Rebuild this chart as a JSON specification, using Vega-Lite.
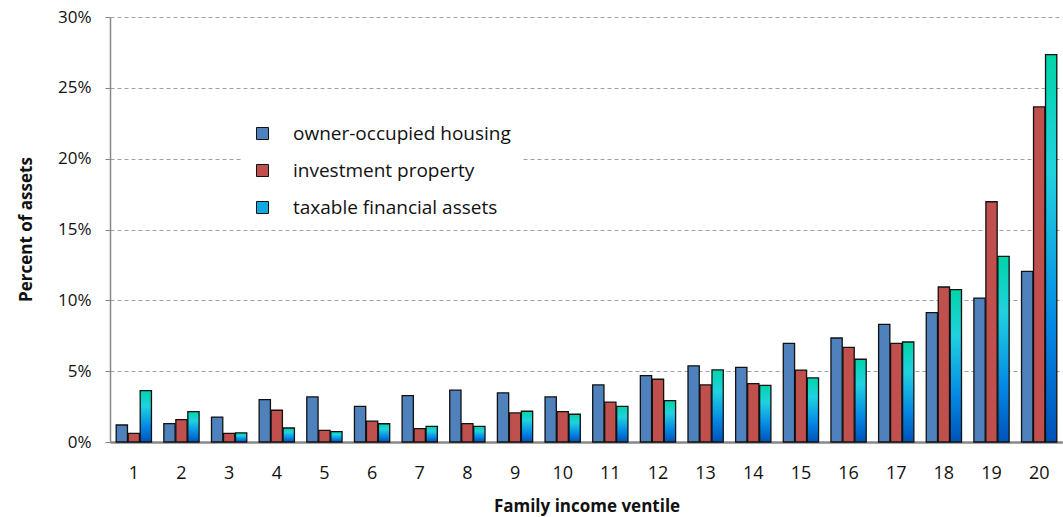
{
  "$schema": "https://vega.github.io/schema/vega-lite/v6.json",
  "width": 953,
  "height": 425,
  "autosize": {"type": "none"},
  "padding": {"left": 110, "top": 17, "right": 0, "bottom": 75},
  "background": "white",
  "config": {
    "view": {"stroke": null},
    "font": "Open Sans"
  },
  "data": {
    "values": [
      {"v": 1, "s": "owner-occupied housing", "p": 0.0120},
      {"v": 1, "s": "investment property", "p": 0.0061},
      {"v": 1, "s": "taxable financial assets", "p": 0.0362},
      {"v": 2, "s": "owner-occupied housing", "p": 0.0130},
      {"v": 2, "s": "investment property", "p": 0.0158},
      {"v": 2, "s": "taxable financial assets", "p": 0.0215},
      {"v": 3, "s": "owner-occupied housing", "p": 0.0176},
      {"v": 3, "s": "investment property", "p": 0.0061},
      {"v": 3, "s": "taxable financial assets", "p": 0.0064},
      {"v": 4, "s": "owner-occupied housing", "p": 0.0299},
      {"v": 4, "s": "investment property", "p": 0.0224},
      {"v": 4, "s": "taxable financial assets", "p": 0.0099},
      {"v": 5, "s": "owner-occupied housing", "p": 0.0318},
      {"v": 5, "s": "investment property", "p": 0.0082},
      {"v": 5, "s": "taxable financial assets", "p": 0.0073},
      {"v": 6, "s": "owner-occupied housing", "p": 0.0252},
      {"v": 6, "s": "investment property", "p": 0.0148},
      {"v": 6, "s": "taxable financial assets", "p": 0.0129},
      {"v": 7, "s": "owner-occupied housing", "p": 0.0327},
      {"v": 7, "s": "investment property", "p": 0.0094},
      {"v": 7, "s": "taxable financial assets", "p": 0.0111},
      {"v": 8, "s": "owner-occupied housing", "p": 0.0366},
      {"v": 8, "s": "investment property", "p": 0.0130},
      {"v": 8, "s": "taxable financial assets", "p": 0.0111},
      {"v": 9, "s": "owner-occupied housing", "p": 0.0347},
      {"v": 9, "s": "investment property", "p": 0.0205},
      {"v": 9, "s": "taxable financial assets", "p": 0.0217},
      {"v": 10, "s": "owner-occupied housing", "p": 0.0318},
      {"v": 10, "s": "investment property", "p": 0.0215},
      {"v": 10, "s": "taxable financial assets", "p": 0.0196},
      {"v": 11, "s": "owner-occupied housing", "p": 0.0403},
      {"v": 11, "s": "investment property", "p": 0.0281},
      {"v": 11, "s": "taxable financial assets", "p": 0.0252},
      {"v": 12, "s": "owner-occupied housing", "p": 0.0469},
      {"v": 12, "s": "investment property", "p": 0.0443},
      {"v": 12, "s": "taxable financial assets", "p": 0.0292},
      {"v": 13, "s": "owner-occupied housing", "p": 0.0538},
      {"v": 13, "s": "investment property", "p": 0.0403},
      {"v": 13, "s": "taxable financial assets", "p": 0.0509},
      {"v": 14, "s": "owner-occupied housing", "p": 0.0527},
      {"v": 14, "s": "investment property", "p": 0.0412},
      {"v": 14, "s": "taxable financial assets", "p": 0.0400},
      {"v": 15, "s": "owner-occupied housing", "p": 0.0696},
      {"v": 15, "s": "investment property", "p": 0.0508},
      {"v": 15, "s": "taxable financial assets", "p": 0.0452},
      {"v": 16, "s": "owner-occupied housing", "p": 0.0734},
      {"v": 16, "s": "investment property", "p": 0.0668},
      {"v": 16, "s": "taxable financial assets", "p": 0.0584},
      {"v": 17, "s": "owner-occupied housing", "p": 0.0831},
      {"v": 17, "s": "investment property", "p": 0.0696},
      {"v": 17, "s": "taxable financial assets", "p": 0.0706},
      {"v": 18, "s": "owner-occupied housing", "p": 0.0913},
      {"v": 18, "s": "investment property", "p": 0.1094},
      {"v": 18, "s": "taxable financial assets", "p": 0.1075},
      {"v": 19, "s": "owner-occupied housing", "p": 0.1016},
      {"v": 19, "s": "investment property", "p": 0.1696},
      {"v": 19, "s": "taxable financial assets", "p": 0.1310},
      {"v": 20, "s": "owner-occupied housing", "p": 0.1205},
      {"v": 20, "s": "investment property", "p": 0.2365},
      {"v": 20, "s": "taxable financial assets", "p": 0.2734}
    ]
  },
  "mark": {"type": "bar", "stroke": "#111111", "strokeWidth": 1.3},
  "encoding": {
    "x": {
      "field": "v",
      "type": "ordinal",
      "scale": {"paddingInner": 0.26, "paddingOuter": 0.13},
      "axis": {
        "title": "Family income ventile",
        "titleFontSize": 17,
        "titleFontWeight": "bold",
        "titleColor": "#111111",
        "titleY": 64,
        "titleBaseline": "middle",
        "labelAngle": 0,
        "labelFontSize": 18,
        "labelColor": "#111111",
        "labelPadding": 22,
        "ticks": false,
        "domainColor": "#888888",
        "domainWidth": 2.5,
        "grid": false
      }
    },
    "xOffset": {
      "field": "s",
      "type": "nominal",
      "scale": {
        "domain": ["owner-occupied housing", "investment property", "taxable financial assets"],
        "paddingInner": 0.06
      }
    },
    "y": {
      "field": "p",
      "type": "quantitative",
      "scale": {"domain": [0, 0.3], "nice": false},
      "axis": {
        "title": "Percent of assets",
        "titleFontSize": 17,
        "titleFontWeight": "bold",
        "titleColor": "#111111",
        "titleX": -84,
        "titleY": 212,
        "titleAngle": 270,
        "titleAlign": "center",
        "titleBaseline": "middle",
        "format": ".0%",
        "values": [0, 0.05, 0.1, 0.15, 0.2, 0.25, 0.3],
        "labelFontSize": 17,
        "labelColor": "#111111",
        "labelPadding": 14,
        "tickSize": 5,
        "tickColor": "#888888",
        "domainColor": "#888888",
        "domainWidth": 1.5,
        "gridColor": "#a0a0a0",
        "gridDash": [4, 3],
        "gridWidth": 1
      }
    },
    "fill": {
      "condition": {
        "test": "datum.s === 'taxable financial assets'",
        "value": {"gradient": "linear", "x1": 0, "y1": 0, "x2": 0, "y2": 1,
           "stops": [
             {"offset": 0, "color": "#00d4a8"},
             {"offset": 0.3, "color": "#20d2e0"},
             {"offset": 0.7, "color": "#0488e4"},
             {"offset": 1, "color": "#0052b8"}
           ]}
      },
      "field": "s",
      "type": "nominal",
      "scale": {
        "domain": ["owner-occupied housing", "investment property", "taxable financial assets"],
        "range": ["#4f81bd", "#c0504d", "#12a8e2"]
      },
      "legend": {
        "title": null,
        "orient": "none",
        "legendX": 131,
        "legendY": 95,
        "fillColor": "white",
        "padding": 12,
        "labelFontSize": 19,
        "labelLimit": 0,
        "labelColor": "#111111",
        "labelOffset": 21,
        "symbolType": "square",
        "symbolSize": 144,
        "symbolStrokeColor": "#111111",
        "symbolStrokeWidth": 1,
        "rowPadding": 17
      }
    }
  }
}
